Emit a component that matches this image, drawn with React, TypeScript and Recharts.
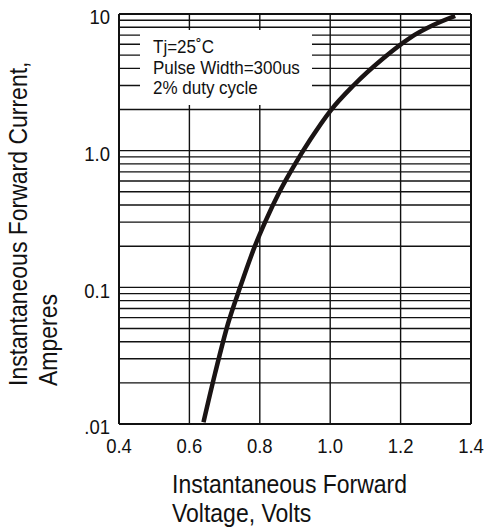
import React from 'react';
import { LineChart, Line, XAxis, YAxis, ReferenceLine } from 'recharts';

// forward voltage (V) vs forward current (A)
const volts = [0.64, 0.673, 0.71, 0.744, 0.786, 0.815, 0.856, 0.898, 0.943, 1.0, 1.066, 1.151, 1.227, 1.293, 1.355];
const amps = [0.0103, 0.0235, 0.0546, 0.1, 0.2, 0.3, 0.5, 0.78, 1.2, 1.95, 3.0, 4.75, 6.7, 8.3, 9.67];

const xTicks = [0.4, 0.6, 0.8, 1.0, 1.2, 1.4];
const yTicks = [0.01, 0.1, 1, 10];
const yTickLabels = ['.01', '0.1', '1.0', '10'];
const xGrid = [0.6, 0.8, 1.0, 1.2];
const yGrid = [
  0.02, 0.03, 0.04, 0.05, 0.06, 0.07, 0.08, 0.09,
  0.1, 0.2, 0.3, 0.4, 0.5, 0.6, 0.7, 0.8, 0.9,
  1, 2, 3, 4, 5, 6, 7, 8, 9,
];
const noteLines = ['Tj=25˚C', 'Pulse Width=300us', '2% duty cycle'];

const data = volts.map((v, i) => ({ v, a: amps[i] }));

const FONT = '"Liberation Sans", Arial, sans-serif';

function YTick(props: any) {
  const { x, y, payload } = props;
  const idx = yTicks.indexOf(payload.value);
  return (
    <g transform={`translate(${x},${y})`}>
      <text transform="scale(1,1.1)" y={9.5} textAnchor="end" fontSize={18.5} fontFamily={FONT} fill="#111">
        {idx >= 0 ? yTickLabels[idx] : payload.value}
      </text>
    </g>
  );
}

function XTick(props: any) {
  const { x, y, payload } = props;
  return (
    <g transform={`translate(${x},${y})`}>
      <text transform="scale(1,1.1)" y={26.4} textAnchor="middle" fontSize={18.5} fontFamily={FONT} fill="#111">
        {Number(payload.value).toFixed(1)}
      </text>
    </g>
  );
}

export default function App() {
  return (
    <div style={{ position: 'absolute', left: 0, top: 0, width: 485, height: 528, background: '#fff', fontFamily: FONT }}>
      <LineChart width={485} height={528} data={data} margin={{ top: 14, right: 14, bottom: 64, left: 59 }}>
        <XAxis
          dataKey="v"
          type="number"
          domain={[0.4, 1.4]}
          ticks={xTicks}
          axisLine={false}
          tickLine={false}
          tickSize={0}
          tickMargin={0}
          height={40}
          tick={<XTick />}
          interval={0}
        />
        <YAxis
          type="number"
          scale="log"
          domain={[0.01, 10]}
          ticks={yTicks}
          allowDataOverflow
          axisLine={false}
          tickLine={false}
          tickSize={0}
          tickMargin={9}
          width={60}
          tick={<YTick />}
          interval={0}
        />
        {yGrid.map((g) => (
          <ReferenceLine key={`h${g}`} y={g} stroke="#111" strokeWidth={1.4} />
        ))}
        {xGrid.map((g) => (
          <ReferenceLine key={`v${g}`} x={g} stroke="#111" strokeWidth={1.4} />
        ))}
        <ReferenceLine x={0.4} stroke="#111" strokeWidth={2} />
        <ReferenceLine x={1.4} stroke="#111" strokeWidth={2} />
        <ReferenceLine y={0.01} stroke="#111" strokeWidth={2} />
        <ReferenceLine y={10} stroke="#111" strokeWidth={2} />
        <Line
          type="monotone"
          dataKey="a"
          stroke="#1a1414"
          strokeWidth={4.5}
          dot={false}
          isAnimationActive={false}
        />
      </LineChart>
      <svg width={485} height={528} style={{ position: 'absolute', left: 0, top: 0, pointerEvents: 'none' }}>
        <rect x={140} y={30} width={172} height={75} fill="#fff" />
        {noteLines.map((t, i) => (
          <text
            key={t}
            transform={`translate(153,${[53.3, 74, 93.5][i]}) scale(1,1.1)`}
            fontSize={17}
            fontFamily={FONT}
            fill="#111"
          >
            {t}
          </text>
        ))}
        <g transform="translate(27,386) rotate(-90)">
          <text transform="scale(1,1.1)" fontSize={23} fontFamily={FONT} fill="#111">
            Instantaneous Forward Current,
          </text>
        </g>
        <g transform="translate(57,386) rotate(-90)">
          <text transform="scale(1,1.1)" fontSize={23} fontFamily={FONT} fill="#111">
            Amperes
          </text>
        </g>
        <text transform="translate(172,493.3) scale(1,1.1)" fontSize={23} fontFamily={FONT} fill="#111">
          Instantaneous Forward
        </text>
        <text transform="translate(172,521.7) scale(1,1.1)" fontSize={23} fontFamily={FONT} fill="#111">
          Voltage, Volts
        </text>
      </svg>
    </div>
  );
}
